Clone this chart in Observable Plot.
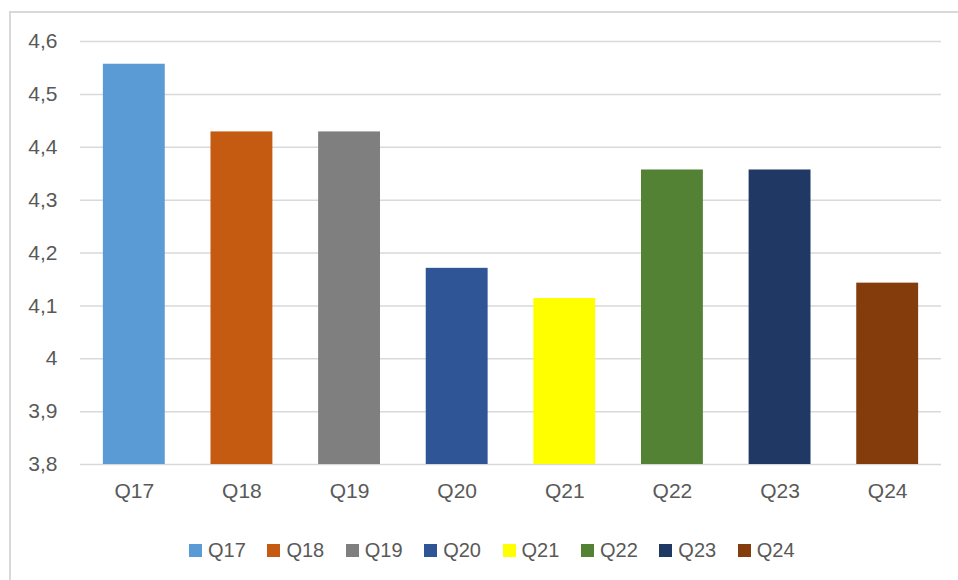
<!DOCTYPE html>
<html>
<head>
<meta charset="utf-8">
<script src="https://cdn.jsdelivr.net/npm/d3@7"></script>
<script src="https://cdn.jsdelivr.net/npm/@observablehq/plot@0.6"></script>
<style>
  html, body { margin: 0; padding: 0; background: #fff; }
  body { position: relative; width: 958px; height: 580px; overflow: hidden; font-family: "Liberation Sans", "DejaVu Sans", sans-serif; }
  #frame { position: absolute; left: 9px; top: 11px; width: 960px; height: 580px; border-left: 2px solid #d9d9d9; border-top: 2px solid #d9d9d9; box-sizing: border-box; }
  #chart { position: absolute; left: 0; top: 0; }
  #legend { position: absolute; left: 189px; top: 539px; display: flex; }
  .item { width: 78.4px; display: flex; align-items: center; font-size: 20px; color: #595959; line-height: 22px; }
  .sw { width: 13px; height: 13px; margin-right: 6px; flex: none; }
</style>
</head>
<body>
<div id="frame"></div>
<div id="chart"></div>
<div id="legend"></div>
<script>
const categories = ["Q17", "Q18", "Q19", "Q20", "Q21", "Q22", "Q23", "Q24"];
const values = [4.557, 4.429, 4.429, 4.171, 4.114, 4.357, 4.357, 4.143];
const colors = ["#5B9BD5", "#C55A11", "#7F7F7F", "#2F5597", "#FFFF00", "#548235", "#203864", "#843C0C"];
const yTicks = [3.8, 3.9, 4.0, 4.1, 4.2, 4.3, 4.4, 4.5, 4.6];
const baseline = 3.8;

const data = categories.map((c, i) => ({cat: c, value: values[i]}));
const fmt = d => d3.format(".1~f")(d).replace(".", ",");

const plot = Plot.plot({
  width: 958,
  height: 510,
  marginLeft: 80,
  marginRight: 17,
  marginTop: 41,
  marginBottom: 46,
  style: {fontFamily: "'Liberation Sans', sans-serif", fontSize: "21px", color: "#595959", background: "transparent"},
  x: {domain: categories, paddingInner: 0.425, paddingOuter: 0.2125, round: false, label: null},
  y: {domain: [3.8, 4.6], label: null},
  color: {domain: categories, range: colors},
  marks: [
    Plot.ruleY(yTicks, {stroke: "#d9d9d9", strokeWidth: 1.5}),
    Plot.barY(data, {x: "cat", y1: () => baseline, y2: "value", fill: "cat"}),
    Plot.axisY({ticks: yTicks, tickFormat: fmt, tickSize: 0, tickPadding: 23, fontSize: 21, fill: "#595959", label: null}),
    Plot.axisX({tickSize: 0, tickPadding: 19, fontSize: 21, fill: "#595959", label: null})
  ]
});
document.getElementById("chart").appendChild(plot);

const legend = document.getElementById("legend");
categories.forEach((c, i) => {
  const it = document.createElement("div");
  it.className = "item";
  const sw = document.createElement("span");
  sw.className = "sw";
  sw.style.background = colors[i];
  const t = document.createElement("span");
  t.textContent = c;
  it.appendChild(sw);
  it.appendChild(t);
  legend.appendChild(it);
});
</script>
</body>
</html>
